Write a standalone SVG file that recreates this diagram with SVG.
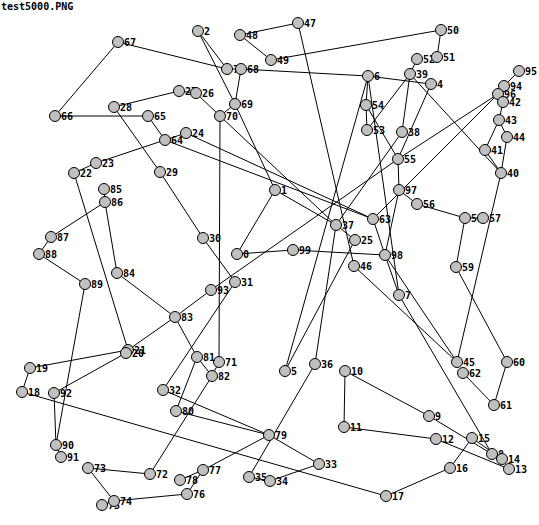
<svg xmlns="http://www.w3.org/2000/svg" width="539" height="525" viewBox="0 0 539 525">
<style>
.e line{stroke:#000;stroke-width:1}
.n circle{fill:#c0c0c0;stroke:#000;stroke-width:1}
text{font-family:"DejaVu Sans Mono","Liberation Mono",monospace;font-weight:bold;font-size:10px;fill:#000}
</style>
<rect width="539" height="525" fill="#fff"/>
<text x="1" y="10">test5000.PNG</text>
<g class="e" id="edges">
<line x1="118" y1="42" x2="55" y2="116"/>
<line x1="118" y1="42" x2="227" y2="69"/>
<line x1="55" y1="116" x2="148" y2="116"/>
<line x1="148" y1="116" x2="165" y2="140"/>
<line x1="165" y1="140" x2="186" y2="133"/>
<line x1="165" y1="140" x2="96" y2="163"/>
<line x1="96" y1="163" x2="74" y2="173"/>
<line x1="74" y1="173" x2="128" y2="350"/>
<line x1="114" y1="107" x2="179" y2="91"/>
<line x1="114" y1="107" x2="160" y2="172"/>
<line x1="179" y1="91" x2="196" y2="93"/>
<line x1="196" y1="93" x2="220" y2="116"/>
<line x1="160" y1="172" x2="203" y2="238"/>
<line x1="203" y1="238" x2="235" y2="282"/>
<line x1="235" y1="282" x2="163" y2="390"/>
<line x1="198" y1="31" x2="227" y2="69"/>
<line x1="198" y1="31" x2="235" y2="104"/>
<line x1="227" y1="69" x2="241" y2="69"/>
<line x1="241" y1="69" x2="235" y2="104"/>
<line x1="241" y1="69" x2="368" y2="76"/>
<line x1="368" y1="76" x2="431" y2="84"/>
<line x1="368" y1="76" x2="366" y2="105"/>
<line x1="368" y1="76" x2="285" y2="371"/>
<line x1="368" y1="76" x2="399" y2="295"/>
<line x1="235" y1="104" x2="220" y2="116"/>
<line x1="235" y1="104" x2="275" y2="190"/>
<line x1="220" y1="116" x2="219" y2="362"/>
<line x1="220" y1="116" x2="336" y2="225"/>
<line x1="275" y1="190" x2="237" y2="254"/>
<line x1="275" y1="190" x2="336" y2="225"/>
<line x1="237" y1="254" x2="293" y2="250"/>
<line x1="293" y1="250" x2="385" y2="255"/>
<line x1="298" y1="23" x2="240" y2="35"/>
<line x1="240" y1="35" x2="271" y2="60"/>
<line x1="271" y1="60" x2="441" y2="30"/>
<line x1="441" y1="30" x2="437" y2="57"/>
<line x1="417" y1="59" x2="410" y2="74"/>
<line x1="410" y1="74" x2="402" y2="132"/>
<line x1="410" y1="74" x2="367" y2="130"/>
<line x1="410" y1="74" x2="501" y2="173"/>
<line x1="402" y1="132" x2="336" y2="225"/>
<line x1="298" y1="23" x2="354" y2="266"/>
<line x1="366" y1="105" x2="367" y2="130"/>
<line x1="366" y1="105" x2="398" y2="159"/>
<line x1="431" y1="84" x2="398" y2="159"/>
<line x1="398" y1="159" x2="399" y2="190"/>
<line x1="399" y1="190" x2="417" y2="204"/>
<line x1="417" y1="204" x2="465" y2="218"/>
<line x1="465" y1="218" x2="483" y2="218"/>
<line x1="465" y1="218" x2="456" y2="267"/>
<line x1="456" y1="267" x2="507" y2="362"/>
<line x1="507" y1="362" x2="494" y2="405"/>
<line x1="494" y1="405" x2="463" y2="373"/>
<line x1="501" y1="173" x2="457" y2="362"/>
<line x1="485" y1="150" x2="499" y2="120"/>
<line x1="485" y1="150" x2="501" y2="173"/>
<line x1="499" y1="120" x2="503" y2="102"/>
<line x1="499" y1="120" x2="507" y2="137"/>
<line x1="507" y1="137" x2="501" y2="173"/>
<line x1="504" y1="86" x2="519" y2="71"/>
<line x1="504" y1="86" x2="498" y2="94"/>
<line x1="498" y1="94" x2="398" y2="159"/>
<line x1="398" y1="159" x2="211" y2="290"/>
<line x1="498" y1="94" x2="373" y2="219"/>
<line x1="211" y1="290" x2="175" y2="317"/>
<line x1="175" y1="317" x2="117" y2="273"/>
<line x1="175" y1="317" x2="197" y2="357"/>
<line x1="175" y1="317" x2="128" y2="350"/>
<line x1="117" y1="273" x2="105" y2="202"/>
<line x1="104" y1="189" x2="105" y2="202"/>
<line x1="105" y1="202" x2="51" y2="237"/>
<line x1="51" y1="237" x2="39" y2="254"/>
<line x1="39" y1="254" x2="85" y2="284"/>
<line x1="85" y1="284" x2="56" y2="445"/>
<line x1="56" y1="445" x2="61" y2="457"/>
<line x1="56" y1="445" x2="54" y2="393"/>
<line x1="54" y1="393" x2="126" y2="353"/>
<line x1="30" y1="368" x2="128" y2="350"/>
<line x1="30" y1="368" x2="22" y2="392"/>
<line x1="22" y1="392" x2="386" y2="496"/>
<line x1="386" y1="496" x2="450" y2="468"/>
<line x1="450" y1="468" x2="472" y2="438"/>
<line x1="472" y1="438" x2="502" y2="459"/>
<line x1="492" y1="454" x2="502" y2="459"/>
<line x1="492" y1="454" x2="429" y2="416"/>
<line x1="436" y1="439" x2="509" y2="469"/>
<line x1="344" y1="427" x2="436" y2="439"/>
<line x1="345" y1="371" x2="344" y2="427"/>
<line x1="345" y1="371" x2="429" y2="416"/>
<line x1="399" y1="295" x2="492" y2="454"/>
<line x1="354" y1="266" x2="457" y2="362"/>
<line x1="385" y1="255" x2="457" y2="362"/>
<line x1="385" y1="255" x2="399" y2="190"/>
<line x1="385" y1="255" x2="399" y2="295"/>
<line x1="373" y1="219" x2="385" y2="255"/>
<line x1="165" y1="140" x2="373" y2="219"/>
<line x1="186" y1="133" x2="373" y2="219"/>
<line x1="355" y1="240" x2="336" y2="225"/>
<line x1="285" y1="371" x2="355" y2="240"/>
<line x1="315" y1="364" x2="336" y2="225"/>
<line x1="315" y1="364" x2="249" y2="477"/>
<line x1="249" y1="477" x2="270" y2="481"/>
<line x1="270" y1="481" x2="319" y2="464"/>
<line x1="319" y1="464" x2="269" y2="435"/>
<line x1="163" y1="390" x2="269" y2="435"/>
<line x1="176" y1="411" x2="269" y2="435"/>
<line x1="269" y1="435" x2="203" y2="470"/>
<line x1="203" y1="470" x2="180" y2="480"/>
<line x1="203" y1="470" x2="187" y2="494"/>
<line x1="187" y1="494" x2="114" y2="501"/>
<line x1="114" y1="501" x2="88" y2="468"/>
<line x1="114" y1="501" x2="102" y2="505"/>
<line x1="88" y1="468" x2="150" y2="474"/>
<line x1="150" y1="474" x2="212" y2="376"/>
<line x1="197" y1="357" x2="212" y2="376"/>
<line x1="176" y1="411" x2="197" y2="357"/>
<line x1="219" y1="362" x2="212" y2="376"/>
</g>
<g class="n">
<g id="n0"><circle cx="237" cy="254" r="5.5"/><text x="243" y="258">0</text></g>
<g id="n1"><circle cx="275" cy="190" r="5.5"/><text x="281" y="194">1</text></g>
<g id="n2"><circle cx="198" cy="31" r="5.5"/><text x="204" y="35">2</text></g>
<g id="n3"><circle cx="227" cy="69" r="5.5"/><text x="233" y="73">7</text></g>
<g id="n4"><circle cx="431" cy="84" r="5.5"/><text x="437" y="88">4</text></g>
<g id="n5"><circle cx="285" cy="371" r="5.5"/><text x="291" y="375">5</text></g>
<g id="n6"><circle cx="368" cy="76" r="5.5"/><text x="374" y="80">6</text></g>
<g id="n7"><circle cx="399" cy="295" r="5.5"/><text x="405" y="299">7</text></g>
<g id="n8"><circle cx="492" cy="454" r="5.5"/><text x="498" y="458">8</text></g>
<g id="n9"><circle cx="429" cy="416" r="5.5"/><text x="435" y="420">9</text></g>
<g id="n10"><circle cx="345" cy="371" r="5.5"/><text x="351" y="375">10</text></g>
<g id="n11"><circle cx="344" cy="427" r="5.5"/><text x="350" y="431">11</text></g>
<g id="n12"><circle cx="436" cy="439" r="5.5"/><text x="442" y="443">12</text></g>
<g id="n13"><circle cx="509" cy="469" r="5.5"/><text x="515" y="473">13</text></g>
<g id="n14"><circle cx="502" cy="459" r="5.5"/><text x="508" y="463">14</text></g>
<g id="n15"><circle cx="472" cy="438" r="5.5"/><text x="478" y="442">15</text></g>
<g id="n16"><circle cx="450" cy="468" r="5.5"/><text x="456" y="472">16</text></g>
<g id="n17"><circle cx="386" cy="496" r="5.5"/><text x="392" y="500">17</text></g>
<g id="n18"><circle cx="22" cy="392" r="5.5"/><text x="28" y="396">18</text></g>
<g id="n19"><circle cx="30" cy="368" r="5.5"/><text x="36" y="372">19</text></g>
<g id="n21"><circle cx="128" cy="350" r="5.5"/><text x="134" y="354">21</text></g>
<g id="n20"><circle cx="126" cy="353" r="5.5"/><text x="132" y="357">20</text></g>
<g id="n22"><circle cx="74" cy="173" r="5.5"/><text x="80" y="177">22</text></g>
<g id="n23"><circle cx="96" cy="163" r="5.5"/><text x="102" y="167">23</text></g>
<g id="n24"><circle cx="186" cy="133" r="5.5"/><text x="192" y="137">24</text></g>
<g id="n25"><circle cx="355" cy="240" r="5.5"/><text x="361" y="244">25</text></g>
<g id="n27"><circle cx="179" cy="91" r="5.5"/><text x="185" y="95">27</text></g>
<g id="n26"><circle cx="196" cy="93" r="5.5"/><text x="202" y="97">26</text></g>
<g id="n28"><circle cx="114" cy="107" r="5.5"/><text x="120" y="111">28</text></g>
<g id="n29"><circle cx="160" cy="172" r="5.5"/><text x="166" y="176">29</text></g>
<g id="n30"><circle cx="203" cy="238" r="5.5"/><text x="209" y="242">30</text></g>
<g id="n31"><circle cx="235" cy="282" r="5.5"/><text x="241" y="286">31</text></g>
<g id="n32"><circle cx="163" cy="390" r="5.5"/><text x="169" y="394">32</text></g>
<g id="n33"><circle cx="319" cy="464" r="5.5"/><text x="325" y="468">33</text></g>
<g id="n35"><circle cx="249" cy="477" r="5.5"/><text x="255" y="481">35</text></g>
<g id="n34"><circle cx="270" cy="481" r="5.5"/><text x="276" y="485">34</text></g>
<g id="n36"><circle cx="315" cy="364" r="5.5"/><text x="321" y="368">36</text></g>
<g id="n37"><circle cx="336" cy="225" r="5.5"/><text x="342" y="229">37</text></g>
<g id="n38"><circle cx="402" cy="132" r="5.5"/><text x="408" y="136">38</text></g>
<g id="n39"><circle cx="410" cy="74" r="5.5"/><text x="416" y="78">39</text></g>
<g id="n40"><circle cx="501" cy="173" r="5.5"/><text x="507" y="177">40</text></g>
<g id="n41"><circle cx="485" cy="150" r="5.5"/><text x="491" y="154">41</text></g>
<g id="n43"><circle cx="499" cy="120" r="5.5"/><text x="505" y="124">43</text></g>
<g id="n44"><circle cx="507" cy="137" r="5.5"/><text x="513" y="141">44</text></g>
<g id="n45"><circle cx="457" cy="362" r="5.5"/><text x="463" y="366">45</text></g>
<g id="n46"><circle cx="354" cy="266" r="5.5"/><text x="360" y="270">46</text></g>
<g id="n47"><circle cx="298" cy="23" r="5.5"/><text x="304" y="27">47</text></g>
<g id="n48"><circle cx="240" cy="35" r="5.5"/><text x="246" y="39">48</text></g>
<g id="n49"><circle cx="271" cy="60" r="5.5"/><text x="277" y="64">49</text></g>
<g id="n50"><circle cx="441" cy="30" r="5.5"/><text x="447" y="34">50</text></g>
<g id="n52"><circle cx="417" cy="59" r="5.5"/><text x="423" y="63">52</text></g>
<g id="n51"><circle cx="437" cy="57" r="5.5"/><text x="443" y="61">51</text></g>
<g id="n53"><circle cx="367" cy="130" r="5.5"/><text x="373" y="134">53</text></g>
<g id="n54"><circle cx="366" cy="105" r="5.5"/><text x="372" y="109">54</text></g>
<g id="n55"><circle cx="398" cy="159" r="5.5"/><text x="404" y="163">55</text></g>
<g id="n56"><circle cx="417" cy="204" r="5.5"/><text x="423" y="208">56</text></g>
<g id="n58"><circle cx="465" cy="218" r="5.5"/><text x="471" y="222">58</text></g>
<g id="n57"><circle cx="483" cy="218" r="5.5"/><text x="489" y="222">57</text></g>
<g id="n59"><circle cx="456" cy="267" r="5.5"/><text x="462" y="271">59</text></g>
<g id="n60"><circle cx="507" cy="362" r="5.5"/><text x="513" y="366">60</text></g>
<g id="n61"><circle cx="494" cy="405" r="5.5"/><text x="500" y="409">61</text></g>
<g id="n62"><circle cx="463" cy="373" r="5.5"/><text x="469" y="377">62</text></g>
<g id="n63"><circle cx="373" cy="219" r="5.5"/><text x="379" y="223">63</text></g>
<g id="n64"><circle cx="165" cy="140" r="5.5"/><text x="171" y="144">64</text></g>
<g id="n65"><circle cx="148" cy="116" r="5.5"/><text x="154" y="120">65</text></g>
<g id="n66"><circle cx="55" cy="116" r="5.5"/><text x="61" y="120">66</text></g>
<g id="n67"><circle cx="118" cy="42" r="5.5"/><text x="124" y="46">67</text></g>
<g id="n68"><circle cx="241" cy="69" r="5.5"/><text x="247" y="73">68</text></g>
<g id="n69"><circle cx="235" cy="104" r="5.5"/><text x="241" y="108">69</text></g>
<g id="n70"><circle cx="220" cy="116" r="5.5"/><text x="226" y="120">70</text></g>
<g id="n71"><circle cx="219" cy="362" r="5.5"/><text x="225" y="366">71</text></g>
<g id="n72"><circle cx="150" cy="474" r="5.5"/><text x="156" y="478">72</text></g>
<g id="n73"><circle cx="88" cy="468" r="5.5"/><text x="94" y="472">73</text></g>
<g id="n75"><circle cx="102" cy="505" r="5.5"/><text x="108" y="509">75</text></g>
<g id="n74"><circle cx="114" cy="501" r="5.5"/><text x="120" y="505">74</text></g>
<g id="n76"><circle cx="187" cy="494" r="5.5"/><text x="193" y="498">76</text></g>
<g id="n77"><circle cx="203" cy="470" r="5.5"/><text x="209" y="474">77</text></g>
<g id="n78"><circle cx="180" cy="480" r="5.5"/><text x="186" y="484">78</text></g>
<g id="n79"><circle cx="269" cy="435" r="5.5"/><text x="275" y="439">79</text></g>
<g id="n80"><circle cx="176" cy="411" r="5.5"/><text x="182" y="415">80</text></g>
<g id="n81"><circle cx="197" cy="357" r="5.5"/><text x="203" y="361">81</text></g>
<g id="n82"><circle cx="212" cy="376" r="5.5"/><text x="218" y="380">82</text></g>
<g id="n83"><circle cx="175" cy="317" r="5.5"/><text x="181" y="321">83</text></g>
<g id="n84"><circle cx="117" cy="273" r="5.5"/><text x="123" y="277">84</text></g>
<g id="n85"><circle cx="104" cy="189" r="5.5"/><text x="110" y="193">85</text></g>
<g id="n86"><circle cx="105" cy="202" r="5.5"/><text x="111" y="206">86</text></g>
<g id="n87"><circle cx="51" cy="237" r="5.5"/><text x="57" y="241">87</text></g>
<g id="n88"><circle cx="39" cy="254" r="5.5"/><text x="45" y="258">88</text></g>
<g id="n89"><circle cx="85" cy="284" r="5.5"/><text x="91" y="288">89</text></g>
<g id="n90"><circle cx="56" cy="445" r="5.5"/><text x="62" y="449">90</text></g>
<g id="n91"><circle cx="61" cy="457" r="5.5"/><text x="67" y="461">91</text></g>
<g id="n92"><circle cx="54" cy="393" r="5.5"/><text x="60" y="397">92</text></g>
<g id="n93"><circle cx="211" cy="290" r="5.5"/><text x="217" y="294">93</text></g>
<g id="n94"><circle cx="504" cy="86" r="5.5"/><text x="510" y="90">94</text></g>
<g id="n95"><circle cx="519" cy="71" r="5.5"/><text x="525" y="75">95</text></g>
<g id="n96"><circle cx="498" cy="94" r="5.5"/><text x="504" y="98">96</text></g>
<g id="n42"><circle cx="503" cy="102" r="5.5"/><text x="509" y="106">42</text></g>
<g id="n97"><circle cx="399" cy="190" r="5.5"/><text x="405" y="194">97</text></g>
<g id="n98"><circle cx="385" cy="255" r="5.5"/><text x="391" y="259">98</text></g>
<g id="n99"><circle cx="293" cy="250" r="5.5"/><text x="299" y="254">99</text></g>
</g>
</svg>
